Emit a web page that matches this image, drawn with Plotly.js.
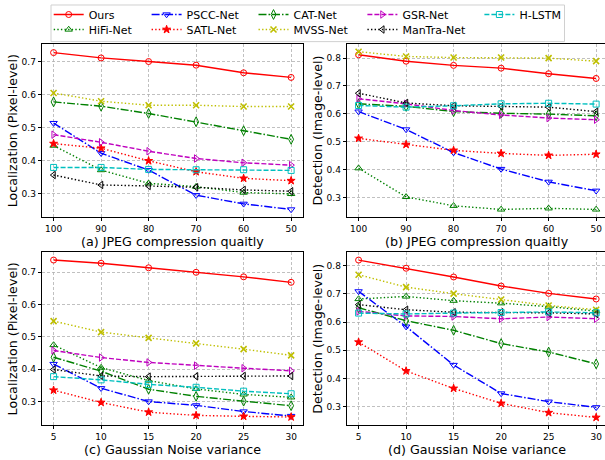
<!DOCTYPE html>
<html><head><meta charset="utf-8">
<script src="https://cdn.plot.ly/plotly-3.0.1.min.js"></script>
<style>body{margin:0;background:#fff}</style>
</head><body><div id="chart" style="width:605px;height:460px"></div>
<script>
const methods = ["Ours","HiFi-Net","PSCC-Net","SATL-Net","CAT-Net","MVSS-Net","GSR-Net","ManTra-Net","H-LSTM"];
const jpegQuality = [100,90,80,70,60,50];
const noiseVariance = [5,10,15,20,25,30];
const yTicks = [0.3,0.4,0.5,0.6,0.7,0.8];

// rows follow the order of methods
const locJpeg = [
  [0.727,0.711,0.700,0.689,0.666,0.652],
  [0.446,0.372,0.332,0.322,0.304,0.300],
  [0.514,0.423,0.372,0.296,0.270,0.253],
  [0.452,0.438,0.400,0.367,0.347,0.340],
  [0.578,0.565,0.543,0.518,0.491,0.465],
  [0.605,0.580,0.568,0.568,0.564,0.564],
  [0.479,0.456,0.429,0.407,0.394,0.387],
  [0.357,0.327,0.324,0.320,0.312,0.308],
  [0.380,0.380,0.374,0.373,0.373,0.371]
];
const detJpeg = [
  [0.812,0.789,0.774,0.764,0.744,0.727],
  [0.405,0.302,0.270,0.257,0.261,0.257],
  [0.608,0.544,0.461,0.402,0.356,0.324],
  [0.512,0.490,0.469,0.458,0.451,0.455],
  [0.636,0.627,0.608,0.602,0.599,0.593],
  [0.823,0.806,0.802,0.802,0.800,0.789],
  [0.654,0.636,0.612,0.596,0.585,0.579],
  [0.674,0.639,0.629,0.627,0.624,0.608],
  [0.630,0.624,0.629,0.636,0.638,0.635]
];
const locNoise = [
  [0.738,0.728,0.714,0.700,0.686,0.669],
  [0.475,0.405,0.365,0.339,0.322,0.313],
  [0.416,0.341,0.300,0.288,0.269,0.255],
  [0.335,0.297,0.267,0.257,0.254,0.252],
  [0.437,0.394,0.338,0.316,0.301,0.287],
  [0.549,0.515,0.497,0.480,0.462,0.443],
  [0.458,0.436,0.421,0.411,0.403,0.395],
  [0.399,0.379,0.377,0.378,0.379,0.379],
  [0.377,0.367,0.353,0.344,0.332,0.324]
];
const detNoise = [
  [0.820,0.791,0.760,0.728,0.702,0.682],
  [0.682,0.691,0.676,0.667,0.655,0.639],
  [0.709,0.584,0.448,0.347,0.318,0.298],
  [0.529,0.427,0.365,0.312,0.279,0.262],
  [0.651,0.605,0.571,0.524,0.494,0.452],
  [0.768,0.724,0.701,0.680,0.659,0.644],
  [0.638,0.622,0.620,0.612,0.618,0.612],
  [0.662,0.644,0.635,0.635,0.633,0.629],
  [0.632,0.629,0.632,0.634,0.636,0.633]
];

// styles
const colors = ["#ff0000","#008000","#0000ff","#ff0000","#008000","#bfbf00","#bf00bf","#000000","#00bfbf"];
const dashes = ["solid","1.4px,2.2px","8px,2px,1.5px,2px","1.4px,2.2px","8px,2px,1.5px,2px","1.4px,2.2px","5px,2px","1.4px,2.2px","5px,2px"];
const symbols = ["circle-open","triangle-up-open","triangle-down-open","star","diamond-tall-open","x-thin","triangle-right-open","triangle-left-open","square-open"];
const msize = [6,6.5,6.5,6,7,6,6.5,6.5,6];
const mline = [1,1,1,1,1,1.6,1,1,1];
// legend slot positions (px): column left edge, row centre
const legendX = [48.7,48.7,146.6,146.6,253.5,253.5,362.4,362.4,479.4];
const legendRow = [13.5,29.5,13.5,29.5,13.5,29.5,13.5,29.5,13.5];

const panels = [
  {x: jpegQuality, y: locJpeg, xa: "x", ya: "y"},
  {x: jpegQuality, y: detJpeg, xa: "x2", ya: "y2"},
  {x: noiseVariance, y: locNoise, xa: "x3", ya: "y3"},
  {x: noiseVariance, y: detNoise, xa: "x4", ya: "y4"}
];
const legendName = i => i === 0 ? "legend" : "legend" + (i + 1);

const traces = [];
panels.forEach((p, pi) => {
  methods.forEach((m, i) => {
    traces.push({
      type: "scatter", mode: "lines+markers", name: m,
      x: p.x, y: p.y[i], xaxis: p.xa, yaxis: p.ya,
      legend: legendName(i), showlegend: pi === 0,
      line: {color: colors[i], width: 1.4, dash: dashes[i]},
      marker: {symbol: symbols[i], size: msize[i], color: colors[i], line: {color: colors[i], width: mline[i]}}
    });
  });
});

const W = 605, H = 460;
const font = {family: "DejaVu Sans, sans-serif", color: "#000"};
function axisBase() {
  return {showline: true, linecolor: "#000", linewidth: 1,
    ticks: "outside", ticklen: 3, tickwidth: 1, tickcolor: "#000",
    tickfont: {family: font.family, size: 9, color: "#000"},
    showgrid: true, gridcolor: "#b0b0b0", griddash: "3px,2px", gridwidth: 0.8, zeroline: false};
}
function xaxis(domain, range, anchor, vals) {
  return Object.assign(axisBase(), {domain: domain, range: range, anchor: anchor, tickvals: vals, mirror: true});
}
function yaxis(domain, range, anchor, mirror) {
  return Object.assign(axisBase(), {domain: domain, range: range, anchor: anchor, tickvals: yTicks, tickformat: ".1f", mirror: mirror});
}
const dxL = [41.7/W, 303/W], dxR = [346.7/W, 1];
const dyT = [1-216.7/H, 1-43/H], dyB = [1-425/H, 1-252/H];

const titleFont = {family: font.family, size: 12.7, color: "#000"};
function ann(text, xp, yp, angle) {
  return {text: text, x: xp/W, y: 1-yp/H, xref: "paper", yref: "paper", showarrow: false,
    xanchor: "center", yanchor: "middle", textangle: angle, font: titleFont};
}

const layout = {
  width: W, height: H, margin: {l: 0, r: 0, t: 0, b: 0},
  paper_bgcolor: "#fff", plot_bgcolor: "#fff", font: font,
  xaxis: xaxis(dxL, [102.5, 47.5], "y", jpegQuality),
  xaxis2: xaxis(dxR, [102.5, 48.13], "y2", jpegQuality),
  xaxis3: xaxis(dxL, [3.75, 31.25], "y3", noiseVariance),
  xaxis4: xaxis(dxR, [3.75, 30.93], "y4", noiseVariance),
  yaxis: yaxis(dyT, [0.2295, 0.7533], "x", true),
  yaxis2: yaxis(dyT, [0.229, 0.851], "x2", false),
  yaxis3: yaxis(dyB, [0.227, 0.7615], "x3", true),
  yaxis4: yaxis(dyB, [0.235, 0.847], "x4", false),
  shapes: [{type: "rect", xref: "paper", yref: "paper", x0: 51/W, x1: 564.5/W, y0: 1-40.7/H, y1: 1-4/H,
    line: {color: "#d0d0d0", width: 1}, fillcolor: "rgba(255,255,255,0.8)", layer: "below"}],
  annotations: [
    ann("Localization (Pixel-level)", 12.7, 129.9, -90),
    ann("Detection (Image-level)", 318, 129.9, -90),
    ann("Localization (Pixel-level)", 12.7, 338.5, -90),
    ann("Detection (Image-level)", 318, 338.5, -90),
    ann("(a) JPEG compression quaitly", 172.4, 241, 0),
    ann("(b) JPEG compression quaitly", 477.2, 241, 0),
    ann("(c) Gaussian Noise variance", 172.4, 449, 0),
    ann("(d) Gaussian Noise variance", 477.2, 449, 0)
  ]
};
methods.forEach((m, i) => {
  layout[legendName(i)] = {x: legendX[i]/W, y: 1-legendRow[i]/H, xanchor: "left", yanchor: "middle",
    orientation: "v", bgcolor: "rgba(0,0,0,0)", borderwidth: 0,
    font: {family: font.family, size: 11, color: "#000"}, itemwidth: 30};
});

Plotly.newPlot("chart", traces, layout, {staticPlot: true, displayModeBar: false});
</script></body></html>
